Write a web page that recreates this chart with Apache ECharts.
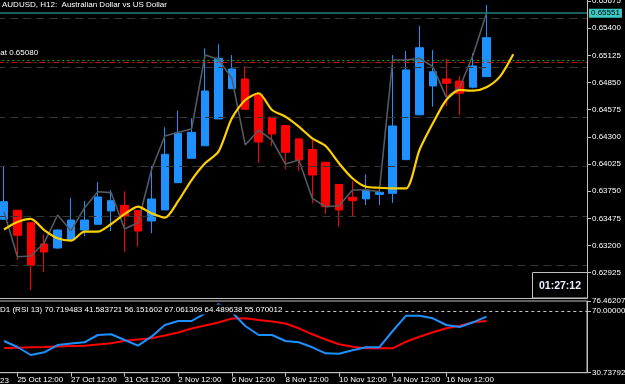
<!DOCTYPE html>
<html>
<head>
<meta charset="utf-8">
<script src="https://cdn.jsdelivr.net/npm/echarts@6/dist/echarts.min.js"></script>
<style>
html,body{margin:0;padding:0;background:#000;}
#chart{width:625px;height:384px;}
</style>
</head>
<body>
<div id="chart"></div>
<script>
// ---- data ----
const categories = [
 '25 Oct 00:00','25 Oct 12:00','26 Oct 00:00','26 Oct 12:00','27 Oct 00:00','27 Oct 12:00',
 '30 Oct 00:00','30 Oct 12:00','31 Oct 00:00','31 Oct 12:00','1 Nov 00:00','1 Nov 12:00',
 '2 Nov 00:00','2 Nov 12:00','3 Nov 00:00','3 Nov 12:00','6 Nov 00:00','6 Nov 12:00',
 '7 Nov 00:00','7 Nov 12:00','8 Nov 00:00','8 Nov 12:00','9 Nov 00:00','9 Nov 12:00',
 '10 Nov 00:00','10 Nov 12:00','13 Nov 00:00','13 Nov 12:00','14 Nov 00:00','14 Nov 12:00',
 '15 Nov 00:00','15 Nov 12:00','16 Nov 00:00','16 Nov 12:00','17 Nov 00:00','17 Nov 12:00',
 '20 Nov 00:00','20 Nov 12:00','21 Nov 00:00','21 Nov 12:00','22 Nov 00:00','22 Nov 12:00',
 '23 Nov 00:00','23 Nov 12:00'
];
// Heiken Ashi candles
const haOpen  = [0.63466,0.63557,0.63431,0.63216,0.63175,0.63256,0.63357,0.63415,0.63550,0.63607,0.63553,0.63448,0.63560,0.63836,0.64083,0.64210,0.64481,0.64787,0.64886,0.64733,0.64498,0.64414,0.64279,0.64172,0.64043,0.63818,0.63689,0.63672,0.63717,0.63728,0.64069,0.64523,0.64815,0.64886,0.64864,0.64803,0.64909];
const haClose = [0.63644,0.63304,0.63000,0.63135,0.63357,0.63458,0.63458,0.63691,0.63654,0.63499,0.63347,0.63671,0.64123,0.64336,0.64346,0.64764,0.65095,0.64987,0.64579,0.64248,0.64329,0.64144,0.64066,0.63914,0.63593,0.63560,0.63654,0.63762,0.63739,0.64410,0.64977,0.65202,0.64959,0.64842,0.64741,0.65017,0.65304];
const haLow   = [0.63460,0.63054,0.62750,0.62932,0.63165,0.63256,0.63297,0.63415,0.63347,0.63138,0.63188,0.63324,0.63560,0.63836,0.64083,0.64210,0.64481,0.64787,0.64579,0.64038,0.64207,0.63972,0.63954,0.63627,0.63519,0.63391,0.63492,0.63610,0.63610,0.63631,0.64069,0.64523,0.64605,0.64612,0.64521,0.64791,0.64909];
const haHigh  = [0.64005,0.63557,0.63431,0.63314,0.63367,0.63684,0.63651,0.63843,0.63762,0.63749,0.63553,0.64005,0.64397,0.64565,0.64488,0.65196,0.65237,0.65128,0.65017,0.64733,0.64498,0.64414,0.64285,0.64268,0.64043,0.63818,0.63853,0.63921,0.63779,0.65128,0.65169,0.65422,0.65179,0.65088,0.64916,0.65146,0.65635];
// actual close line (grey)
const closeLine = [0.63542,0.63087,0.63094,0.63226,0.63509,0.63350,0.63580,0.63745,0.63735,0.63367,0.63431,0.63964,0.64309,0.64346,0.64380,0.65128,0.65085,0.64893,0.64218,0.64369,0.64268,0.64025,0.64066,0.63678,0.63593,0.63603,0.63762,0.63762,0.63747,0.65078,0.65078,0.65095,0.65010,0.64700,0.64802,0.65128,0.65551];
// shifted moving average (yellow)
const maLine = [0.63362,0.63438,0.63469,0.63357,0.63273,0.63249,0.63340,0.63340,0.63418,0.63519,0.63593,0.63526,0.63482,0.63651,0.63863,0.64032,0.64150,0.64488,0.64673,0.64741,0.64572,0.64504,0.64403,0.64285,0.64207,0.64032,0.63881,0.63795,0.63785,0.63779,0.63779,0.64167,0.64437,0.64673,0.64774,0.64767,0.64802,0.64909,0.65136];
// RSI panel
const rsiMain   = [50.96,47.13,42.03,43.75,48.40,49.36,50.13,54.78,55.23,51.59,47.96,53.70,61.16,63.71,63.71,68.62,74.55,69.45,60.52,54.78,54.78,50.96,50.13,46.94,43.11,42.86,45.02,46.94,46.94,57.33,67.09,67.09,65.43,61.16,59.88,62.88,66.45];
const rsiSignal = [46.49,46.68,46.94,47.13,47.45,47.77,47.96,48.72,49.49,51.15,51.91,52.68,54.46,56.38,58.93,60.84,62.75,65.30,65.43,64.35,63.39,62.12,59.05,55.23,51.91,48.85,47.32,46.30,46.30,46.30,50.51,53.70,56.50,59.05,60.71,62.88,63.71];
// axis ticks / levels
const priceTicks = [0.65675,0.65400,0.65125,0.64850,0.64575,0.64300,0.64025,0.63750,0.63475,0.63200,0.62925];
const gridLevels = [0.655,0.650,0.645,0.640,0.635,0.630];
const rsiTicks = [30.737924,70,76.462077];
const rsiLevel = 70;
const bidPrice = 0.65551;
const levelGreen = 0.65080;
const levelRed = 0.65050;
const titleText = 'AUDUSD, H12:  Australian Dollar vs US Dollar';
const rsiText = 'D1 (RSI 13) 70.719483 41.583721 56.151602 67.061309 64.489638 55.070012';
const timerText = '01:27:12';

// ---- chart ----
const FONT = 'Liberation Sans';
const candleData = haOpen.map((o,i)=>[o, haClose[i], haLow[i], haHigh[i]]);
const labelInterval = (idx)=> idx % 4 === 1 && idx <= 33;

const chart = echarts.init(document.getElementById('chart'), null, {renderer:'canvas'});
const levelLines = gridLevels.map(v=>({yAxis:v, lineStyle:{color:'#363636', type:[8,5], width:1}}))
  .concat([
    {yAxis:levelRed, lineStyle:{color:'#d01010', type:[6,3,2,3], width:1}},
    {yAxis:levelGreen, lineStyle:{color:'#18a018', type:[2,3], width:1.2},
     label:{show:true, position:'insideStartTop', formatter:'at ' + levelGreen.toFixed(5),
            color:'#ffffff', fontSize:8, fontFamily:FONT, distance:3}},
    {yAxis:bidPrice, lineStyle:{color:'#1f8078', type:'solid', width:1.6},
     label:{show:true, position:'end', formatter:bidPrice.toFixed(5), color:'#000000', fontSize:8, fontFamily:FONT,
            backgroundColor:'#3cc9c4', padding:[1,2,0,2], distance:2}}
  ]);
const option = {
  backgroundColor:'#000000',
  animation:false,
  textStyle:{fontFamily:FONT},
  grid:[
    {left:-2.7, top:0, width:589.7, height:298, outerBoundsMode:'none', containLabel:false},
    {left:-2.7, top:301, width:589.7, height:71.7, outerBoundsMode:'none', containLabel:false,
     show:true, borderColor:'#c0c0c0', borderWidth:1, backgroundColor:'transparent'}
  ],
  xAxis:[
    {type:'category', gridIndex:0, data:categories, boundaryGap:true,
     axisLine:{show:true, lineStyle:{color:'#c0c0c0', width:1}},
     axisTick:{show:false}, axisLabel:{show:false}, splitLine:{show:false}},
    {type:'category', gridIndex:1, data:categories, boundaryGap:true,
     axisLine:{show:true, lineStyle:{color:'#c0c0c0', width:1}},
     axisTick:{show:true, alignWithLabel:true, interval:labelInterval, length:4, lineStyle:{color:'#c0c0c0'}},
     axisLabel:{show:true, interval:labelInterval, align:'left', color:'#ffffff', fontSize:8, fontFamily:FONT, margin:3, hideOverlap:false},
     splitLine:{show:false}}
  ],
  yAxis:[
    {type:'value', gridIndex:0, position:'right', min:0.62669, max:0.65685,
     axisLine:{show:true, lineStyle:{color:'#c0c0c0', width:1}},
     axisTick:{show:true, length:4, customValues:priceTicks, lineStyle:{color:'#c0c0c0'}},
     axisLabel:{show:true, customValues:priceTicks, color:'#ffffff', fontSize:8, fontFamily:FONT, margin:5,
       formatter:(v)=>Number(v).toFixed(5)},
     splitLine:{show:false}},
    {type:'value', gridIndex:1, position:'right', min:30.737924, max:76.462077,
     axisLine:{show:true, lineStyle:{color:'#c0c0c0', width:1}},
     axisTick:{show:true, length:4, customValues:rsiTicks, lineStyle:{color:'#c0c0c0'}},
     axisLabel:{show:true, customValues:rsiTicks, color:'#ffffff', fontSize:8, fontFamily:FONT, margin:5,
       formatter:(v)=>Number(v).toFixed(6)},
     splitLine:{show:false}}
  ],
  series:[
    {name:'levels', type:'line', xAxisIndex:0, yAxisIndex:0, data:[], z:1, silent:true,
     markLine:{silent:true, precision:6, symbol:['none','none'], animation:false, label:{show:false}, data:levelLines}},
    {name:'HA', type:'candlestick', xAxisIndex:0, yAxisIndex:0, data:candleData, barWidth:8, z:3,
     itemStyle:{color:'#1e90ff', color0:'#ff0000', borderColor:'#1e90ff', borderColor0:'#ff0000', borderWidth:1},
     emphasis:{disabled:true}},
    {name:'Close', type:'line', xAxisIndex:0, yAxisIndex:0, data:closeLine, z:4, symbol:'none',
     lineStyle:{color:'#545a62', width:1.6}, emphasis:{disabled:true}},
    {name:'MA', type:'line', xAxisIndex:0, yAxisIndex:0, data:maLine, z:5, symbol:'none', smooth:0.25,
     lineStyle:{color:'#ffd000', width:2.2}, emphasis:{disabled:true}},
    {name:'RSI', type:'line', xAxisIndex:1, yAxisIndex:1, data:rsiMain, z:4, symbol:'none',
     lineStyle:{color:'#1e90ff', width:2}, emphasis:{disabled:true},
     markLine:{silent:true, precision:6, symbol:['none','none'], animation:false, label:{show:false},
       data:[{yAxis:rsiLevel, lineStyle:{color:'#c8c8c8', type:[3,3], width:1}}]}},
    {name:'Signal', type:'line', xAxisIndex:1, yAxisIndex:1, data:rsiSignal, z:3, symbol:'none',
     lineStyle:{color:'#ff0000', width:2}, emphasis:{disabled:true}}
  ],
  graphic:[
    {type:'text', x:2, y:0.5, z:100, style:{text:titleText, fill:'#ffffff', font:'8px "Liberation Sans"', verticalAlign:'top'}},
    {type:'text', x:0, y:304.5, z:100, style:{text:rsiText, fill:'#ffffff', font:'8px "Liberation Sans"', verticalAlign:'top',
      backgroundColor:'#000000', padding:[1,1,1,0]}},
    {type:'text', x:0, y:376.5, z:100, style:{text:'23', fill:'#ffffff', font:'8px "Liberation Sans"', verticalAlign:'top'}},
    {type:'rect', z:100, shape:{x:532.5, y:272.5, width:55, height:25.5},
     style:{fill:'#000000', stroke:'#c0c0c0', lineWidth:1}},
    {type:'text', x:560, y:286, z:101, style:{text:timerText, fill:'#e8f0ff', font:'bold 10.5px "Liberation Sans"', align:'center', verticalAlign:'middle'}}
  ]
};
chart.setOption(option);
</script>
</body>
</html>
